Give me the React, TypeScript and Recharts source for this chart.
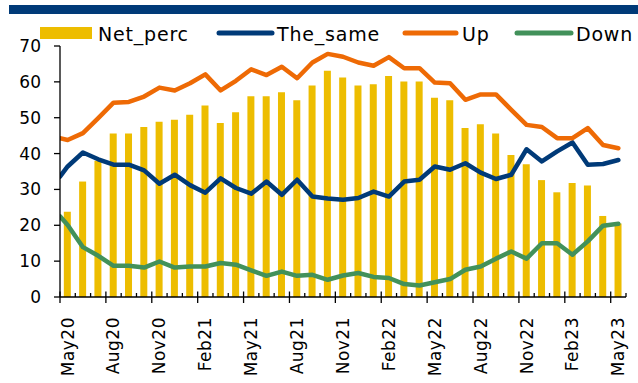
import React from 'react';
import { ComposedChart, Bar, Line, XAxis, YAxis } from 'recharts';

// monthly survey, May20 - May23
const months = [
  'May20', 'Jun20', 'Jul20', 'Aug20', 'Sep20', 'Oct20', 'Nov20', 'Dec20', 'Jan21', 'Feb21',
  'Mar21', 'Apr21', 'May21', 'Jun21', 'Jul21', 'Aug21', 'Sep21', 'Oct21', 'Nov21', 'Dec21',
  'Jan22', 'Feb22', 'Mar22', 'Apr22', 'May22', 'Jun22', 'Jul22', 'Aug22', 'Sep22', 'Oct22',
  'Nov22', 'Dec22', 'Jan23', 'Feb23', 'Mar23', 'Apr23', 'May23',
];

const netPerc = [
  23.8, 32.2, 38.0, 45.6, 45.6, 47.4, 48.9, 49.4, 50.8, 53.4, 48.5, 51.5, 56.0, 56.0, 57.1,
  54.9, 59.0, 63.1, 61.2, 59.0, 59.3, 61.6, 60.1, 60.1, 55.6, 54.9, 47.1, 48.2, 45.6, 39.6,
  37.0, 32.6, 29.2, 31.8, 31.1, 22.6, 20.5,
];

const theSame = [
  36.4, 40.3, 38.4, 36.9, 36.9, 35.3, 31.6, 34.1, 31.2, 29.1, 33.1, 30.4, 28.8, 32.2, 28.5,
  32.7, 28.0, 27.5, 27.1, 27.6, 29.4, 28.0, 32.2, 32.7, 36.4, 35.5, 37.3, 34.7, 32.9, 34.1,
  41.2, 37.8, 40.6, 43.1, 36.9, 37.1, 38.2,
];

const up = [
  43.8, 45.7, 49.9, 54.2, 54.4, 55.9, 58.4, 57.6, 59.6, 62.1, 57.6, 60.3, 63.5, 61.9, 64.2,
  61.0, 65.4, 67.8, 67.0, 65.4, 64.5, 66.9, 63.8, 63.8, 59.8, 59.6, 55.0, 56.5, 56.5, 52.2,
  48.0, 47.4, 44.3, 44.3, 47.1, 42.4, 41.5,
];

const down = [
  20.1, 13.9, 11.5, 8.7, 8.7, 8.2, 9.9, 8.2, 8.5, 8.5, 9.5, 9.0, 7.4, 5.9, 7.1,
  5.9, 6.2, 4.8, 6.0, 6.7, 5.6, 5.3, 3.6, 3.2, 4.1, 5.0, 7.6, 8.5, 10.7, 12.7,
  10.7, 15.0, 15.0, 11.8, 15.5, 19.9, 20.4,
];

// the lines start at the y axis, half a month before May20
const upAtAxis = 44.3;
const sameAtAxis = 33.6;
const downAtAxis = 22.5;

const yTicks = [0, 10, 20, 30, 40, 50, 60, 70];

const CHART_W = 638;
const CHART_H = 383;
const MARGIN = { top: 46, right: 12, bottom: 0, left: 0 };
const Y_AXIS_W = 60;
const PLOT_W = CHART_W - MARGIN.left - MARGIN.right - Y_AXIS_W;
const HALF_BAND = PLOT_W / months.length / 2;

const FONT = '"DejaVu Sans", sans-serif';

const chartData = [
  { idx: -0.5, up: upAtAxis, same: sameAtAxis, down: downAtAxis },
  ...months.map((m, i) => ({
    idx: i,
    month: m,
    net: netPerc[i],
    same: theSame[i],
    up: up[i],
    down: down[i],
  })),
];

// tick marks sit on the month boundaries
const boundaries = months.map((_, i) => i - 0.5).concat(months.length - 0.5);

const MonthTick = (props: any) => {
  const { x, y, payload } = props;
  const j = Math.round(payload.value + 0.5);
  const major = j % 3 === 0;
  const label = major && j < months.length ? months[j] : null;
  const lx = x + HALF_BAND;
  const ly = y + 20;
  return (
    <g>
      <line
        x1={x}
        x2={x}
        y1={y - (major ? 5.5 : 4)}
        y2={y + (major ? 6 : 0)}
        stroke="#000"
        strokeWidth={1.3}
      />
      {label && (
        <text
          x={lx}
          y={ly}
          dy="0.35em"
          textAnchor="end"
          transform={`rotate(-90 ${lx} ${ly})`}
          fontFamily={FONT}
          fontSize={17}
          letterSpacing={0.5}
          fill="#000"
        >
          {label}
        </text>
      )}
    </g>
  );
};

const legendItems = [
  { name: 'Net_perc', color: '#EDBD00', kind: 'bar', x0: 40, x1: 92, tx: 98 },
  { name: 'The_same', color: '#003A78', kind: 'line', x0: 219, x1: 272, tx: 277 },
  { name: 'Up', color: '#EE6A05', kind: 'line', x0: 405, x1: 456, tx: 462 },
  { name: 'Down', color: '#42915A', kind: 'line', x0: 517, x1: 571, tx: 576 },
];

export default function App() {
  return (
    <div style={{ position: 'absolute', left: 0, top: 0, width: CHART_W, height: CHART_H, background: '#fff' }}>
      {/* header rule */}
      <div style={{ position: 'absolute', left: 9, top: 5, width: 629, height: 9, background: '#003A78' }} />

      <ComposedChart width={CHART_W} height={CHART_H} data={chartData} margin={MARGIN}>
        <XAxis
          xAxisId={0}
          type="number"
          dataKey="idx"
          domain={[-0.5, months.length - 0.5]}
          allowDataOverflow
          ticks={boundaries}
          interval={0}
          tickSize={0}
          tickMargin={0}
          tickLine={false}
          tick={<MonthTick />}
          axisLine={{ stroke: '#000', strokeWidth: 1.3 }}
          height={CHART_H - MARGIN.top - 251}
        />
        <YAxis
          domain={[0, 70]}
          ticks={yTicks}
          interval={0}
          width={Y_AXIS_W}
          tickSize={6}
          tickMargin={13}
          axisLine={{ stroke: '#000', strokeWidth: 1.3 }}
          tickLine={{ stroke: '#000', strokeWidth: 1.3 }}
          tick={{ fontFamily: FONT, fontSize: 17, fill: '#000' }}
        />
        <Bar dataKey="net" name="Net_perc" fill="#EDBD00" barSize={7} isAnimationActive={false} />
        <Line
          type="linear"
          dataKey="same"
          name="The_same"
          stroke="#003A78"
          strokeWidth={4.5}
          strokeLinejoin="round"
          strokeLinecap="round"
          dot={false}
          activeDot={false}
          isAnimationActive={false}
        />
        <Line
          type="linear"
          dataKey="up"
          name="Up"
          stroke="#EE6A05"
          strokeWidth={4.5}
          strokeLinejoin="round"
          strokeLinecap="round"
          dot={false}
          activeDot={false}
          isAnimationActive={false}
        />
        <Line
          type="linear"
          dataKey="down"
          name="Down"
          stroke="#42915A"
          strokeWidth={4.5}
          strokeLinejoin="round"
          strokeLinecap="round"
          dot={false}
          activeDot={false}
          isAnimationActive={false}
        />
      </ComposedChart>

      {/* legend */}
      <svg width={CHART_W} height={46} style={{ position: 'absolute', left: 0, top: 0 }}>
        {legendItems.map((it) => (
          <g key={it.name}>
            {it.kind === 'bar' ? (
              <rect x={it.x0} y={27} width={it.x1 - it.x0} height={12} fill={it.color} />
            ) : (
              <line x1={it.x0} x2={it.x1} y1={33} y2={33} stroke={it.color} strokeWidth={5} strokeLinecap="round" />
            )}
            <text x={it.tx} y={40.5} fontFamily={FONT} fontSize={19} letterSpacing={0.8} fill="#000">
              {it.name}
            </text>
          </g>
        ))}
      </svg>
    </div>
  );
}
